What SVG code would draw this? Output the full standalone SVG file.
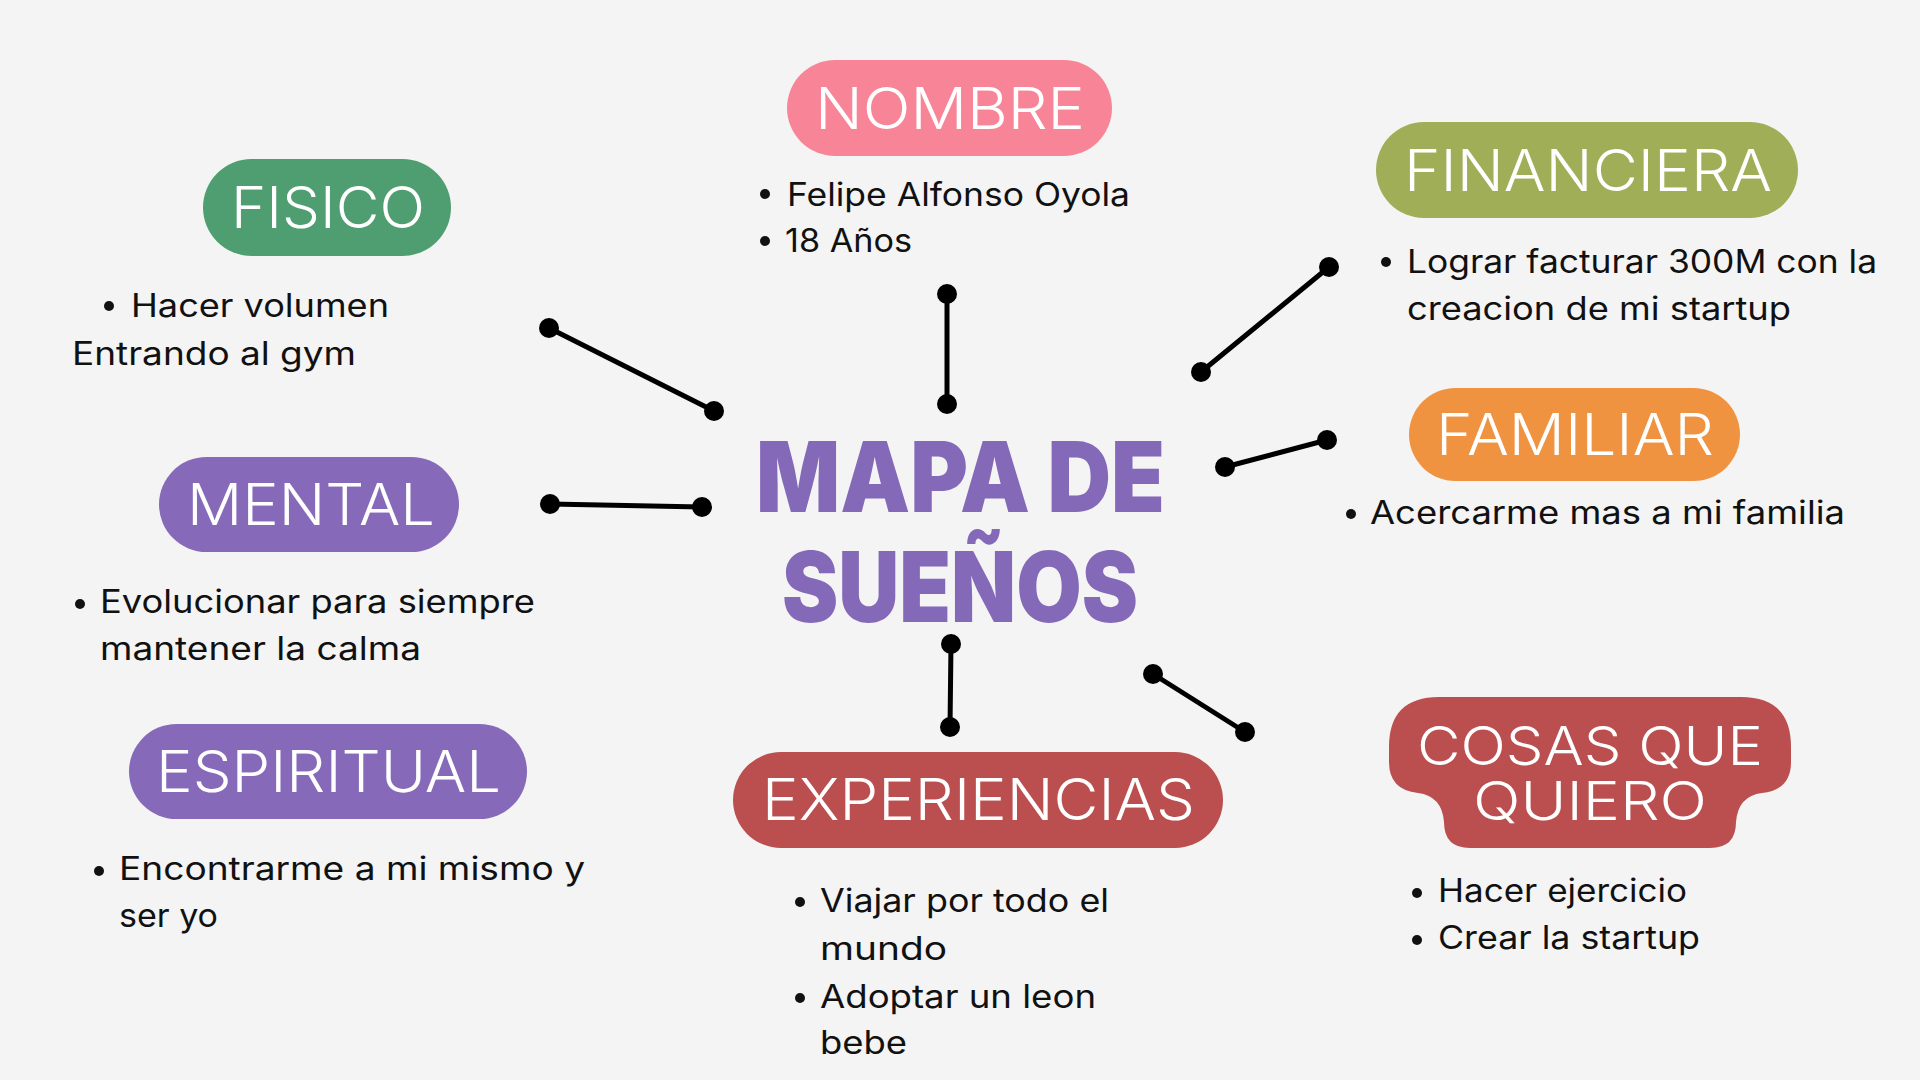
<svg xmlns="http://www.w3.org/2000/svg" width="1920" height="1080" viewBox="0 0 1920 1080">
  <defs>
    <style>
      .bg { fill: #f4f4f4; }
      .pill-title { font-family: Inter, "Noto Sans", "Liberation Sans", sans-serif; font-size: 57px; font-weight: 300; fill: #ffffff; text-anchor: start; }
      .pill-title2 { font-family: Inter, "Noto Sans", "Liberation Sans", sans-serif; font-size: 54px; font-weight: 300; fill: #ffffff; text-anchor: start; }
      .body { font-family: Inter, "Noto Sans", "Liberation Sans", sans-serif; font-size: 32px; font-weight: 400; fill: #111111; }
      .bullet { fill: #111111; }
      .title { font-family: Inter, "Noto Sans", "Liberation Sans", sans-serif; font-size: 98px; font-weight: 900; fill: #8569b9; }
      .conn line { stroke: #000000; stroke-width: 5; stroke-linecap: round; }
      .conn circle { fill: #000000; }
    </style>
  </defs>
  <rect class="bg" x="0" y="0" width="1920" height="1080"/>

  <g id="connectors" class="conn">
    <line x1="549" y1="328" x2="714" y2="411"/>
    <circle cx="549" cy="328" r="10"/><circle cx="714" cy="411" r="10"/>
    <line x1="947" y1="294" x2="947" y2="404"/>
    <circle cx="947" cy="294" r="10"/><circle cx="947" cy="404" r="10"/>
    <line x1="1329" y1="267" x2="1201" y2="372"/>
    <circle cx="1329" cy="267" r="10"/><circle cx="1201" cy="372" r="10"/>
    <line x1="1327" y1="440" x2="1225" y2="467"/>
    <circle cx="1327" cy="440" r="10"/><circle cx="1225" cy="467" r="10"/>
    <line x1="550" y1="504" x2="702" y2="507"/>
    <circle cx="550" cy="504" r="10"/><circle cx="702" cy="507" r="10"/>
    <line x1="951" y1="644" x2="950" y2="727"/>
    <circle cx="951" cy="644" r="10"/><circle cx="950" cy="727" r="10"/>
    <line x1="1153" y1="674" x2="1245" y2="732"/>
    <circle cx="1153" cy="674" r="10"/><circle cx="1245" cy="732" r="10"/>
  </g>

  <g id="title">
    <text class="title" x="756" y="512" textLength="409" lengthAdjust="spacingAndGlyphs">MAPA DE</text>
    <text class="title" x="782" y="622" textLength="356" lengthAdjust="spacingAndGlyphs">SUEÑOS</text>
  </g>

  <g id="fisico">
    <rect x="203" y="159" width="248" height="97" rx="48.5" fill="#4f9e71"/>
    <text class="pill-title" x="231" y="228" textLength="194" lengthAdjust="spacingAndGlyphs">FISICO</text>
    <circle class="bullet" cx="109" cy="306" r="5"/>
    <text class="body" x="131" y="317" textLength="258" lengthAdjust="spacingAndGlyphs">Hacer volumen</text>
    <text class="body" x="72" y="365" textLength="284" lengthAdjust="spacingAndGlyphs">Entrando al gym</text>
  </g>

  <g id="nombre">
    <rect x="787" y="60" width="325" height="96" rx="48" fill="#f78597"/>
    <text class="pill-title" x="815" y="129" textLength="270" lengthAdjust="spacingAndGlyphs">NOMBRE</text>
    <circle class="bullet" cx="765" cy="194" r="5"/>
    <text class="body" x="787" y="206" textLength="343" lengthAdjust="spacingAndGlyphs">Felipe Alfonso Oyola</text>
    <circle class="bullet" cx="765" cy="241" r="5"/>
    <text class="body" x="785" y="252" textLength="127" lengthAdjust="spacingAndGlyphs">18 Años</text>
  </g>

  <g id="financiera">
    <rect x="1376" y="122" width="422" height="96" rx="48" fill="#a0ae58"/>
    <text class="pill-title" x="1404" y="191" textLength="368" lengthAdjust="spacingAndGlyphs">FINANCIERA</text>
    <circle class="bullet" cx="1386" cy="262" r="5"/>
    <text class="body" x="1407" y="273" textLength="470" lengthAdjust="spacingAndGlyphs">Lograr facturar 300M con la</text>
    <text class="body" x="1407" y="320" textLength="384" lengthAdjust="spacingAndGlyphs">creacion de mi startup</text>
  </g>

  <g id="familiar">
    <rect x="1409" y="388" width="331" height="93" rx="46.5" fill="#f09341"/>
    <text class="pill-title" x="1436" y="455" textLength="278" lengthAdjust="spacingAndGlyphs">FAMILIAR</text>
    <circle class="bullet" cx="1351" cy="514" r="5"/>
    <text class="body" x="1370" y="524" textLength="475" lengthAdjust="spacingAndGlyphs">Acercarme mas a mi familia</text>
  </g>

  <g id="mental">
    <rect x="159" y="457" width="300" height="95" rx="47.5" fill="#866ab9"/>
    <text class="pill-title" x="187" y="525" textLength="248" lengthAdjust="spacingAndGlyphs">MENTAL</text>
    <circle class="bullet" cx="80" cy="604" r="5"/>
    <text class="body" x="100" y="613" textLength="435" lengthAdjust="spacingAndGlyphs">Evolucionar para siempre</text>
    <text class="body" x="100" y="660" textLength="321" lengthAdjust="spacingAndGlyphs">mantener la calma</text>
  </g>

  <g id="espiritual">
    <rect x="129" y="724" width="398" height="95" rx="47.5" fill="#866ab9"/>
    <text class="pill-title" x="156" y="792" textLength="345" lengthAdjust="spacingAndGlyphs">ESPIRITUAL</text>
    <circle class="bullet" cx="99" cy="871" r="5"/>
    <text class="body" x="119" y="880" textLength="466" lengthAdjust="spacingAndGlyphs">Encontrarme a mi mismo y</text>
    <text class="body" x="119" y="927" textLength="99" lengthAdjust="spacingAndGlyphs">ser yo</text>
  </g>

  <g id="experiencias">
    <rect x="733" y="752" width="490" height="96" rx="48" fill="#bb4e4e"/>
    <text class="pill-title" x="762" y="820" textLength="433" lengthAdjust="spacingAndGlyphs">EXPERIENCIAS</text>
    <circle class="bullet" cx="800" cy="902" r="5"/>
    <text class="body" x="820" y="912" textLength="289" lengthAdjust="spacingAndGlyphs">Viajar por todo el</text>
    <text class="body" x="820" y="960" textLength="127" lengthAdjust="spacingAndGlyphs">mundo</text>
    <circle class="bullet" cx="800" cy="998" r="5"/>
    <text class="body" x="820" y="1008" textLength="276" lengthAdjust="spacingAndGlyphs">Adoptar un leon</text>
    <text class="body" x="820" y="1054" textLength="87" lengthAdjust="spacingAndGlyphs">bebe</text>
  </g>

  <g id="cosas-que-quiero">
    <path d="M1439,697 H1741 Q1791,697 1791,747 V762 Q1791,790 1762,793 Q1738,796 1736,822 Q1736,848 1710,848 H1470 Q1444,848 1444,822 Q1442,796 1418,793 Q1389,790 1389,762 V747 Q1389,697 1439,697 Z" fill="#bb4e4e"/>
    <text class="pill-title2" x="1417" y="765" textLength="346" lengthAdjust="spacingAndGlyphs">COSAS QUE</text>
    <text class="pill-title2" x="1473" y="820" textLength="234" lengthAdjust="spacingAndGlyphs">QUIERO</text>
    <circle class="bullet" cx="1417" cy="893" r="5"/>
    <text class="body" x="1438" y="902" textLength="249" lengthAdjust="spacingAndGlyphs">Hacer ejercicio</text>
    <circle class="bullet" cx="1417" cy="940" r="5"/>
    <text class="body" x="1438" y="949" textLength="262" lengthAdjust="spacingAndGlyphs">Crear la startup</text>
  </g>
</svg>
